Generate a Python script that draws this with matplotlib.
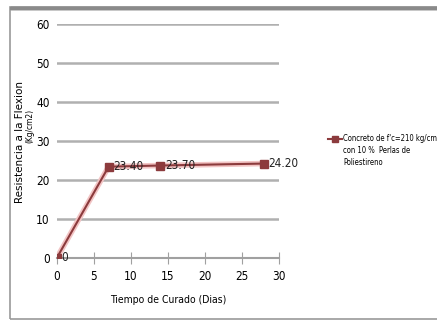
import matplotlib
matplotlib.use("Agg")
import matplotlib.pyplot as plt
from matplotlib.patches import Rectangle
from matplotlib.lines import Line2D

# Data
dias = [0, 7, 14, 28]
resistencia = [0, 23.40, 23.70, 24.20]
etiquetas = ["0", "23.40", "23.70", "24.20"]
serie = "Concreto de f'c=210 kg/cm\ncon 10 %  Perlas de\nPoliestireno"

plt.rcParams['font.family'] = ['DejaVu Sans']
plt.rcParams['font.stretch'] = 'condensed'

W, H = 437, 324
fig = plt.figure(figsize=(W / 100, H / 100), dpi=100)
ax = fig.add_axes([0.130, 0.204, 0.508, 0.722])

# Outer frame of the chart
fig.patches.append(Rectangle((10 / W, 5 / H), 1.1, 312 / H, transform=fig.transFigure,
                             fill=False, edgecolor='#9a9a9a', linewidth=1.2))
fig.patches.append(Rectangle((10 / W, 316 / H), 1.1, 0.0, transform=fig.transFigure,
                             fill=False, edgecolor='#8a8a8a', linewidth=2.5))

red = '#8c3b3d'
ax.plot(dias, resistencia, color='#f2c4c4', linewidth=4, zorder=2, solid_capstyle='round')
ax.plot(dias, resistencia, color=red, marker='s', markersize=6, linewidth=1.5, zorder=3)
for x, y, t in zip(dias, resistencia, etiquetas):
    ax.text(x + 0.6, y, t, fontsize=8.5, va='center', ha='left', color='#222222')

ax.set_xlim(0, 30)
ax.set_ylim(0, 60)
ax.set_xticks(range(0, 31, 5))
ax.set_yticks(range(0, 61, 10))
ax.grid(axis='y', color='#b0b0b0', linewidth=1.8)
ax.set_axisbelow(True)
for s in ['top', 'right', 'left']:
    ax.spines[s].set_visible(False)
ax.spines['bottom'].set_color('#a0a0a0')
ax.spines['bottom'].set_linewidth(1.5)
ax.tick_params(axis='x', direction='inout', length=8, color='#a0a0a0', labelsize=8.5, pad=5)
ax.tick_params(axis='y', length=0, labelsize=8.5, pad=5)

ax.set_xlabel("Tiempo de Curado (Dias)", fontsize=7.5, labelpad=8)

# y label: two lines, first one spread wide as in the original
fig.text(20 / W, 1 - 142 / H, "Resistencia a la Flexion", rotation=90, fontsize=7.5,
         fontstretch='normal', ha='center', va='center')
fig.text(30 / W, 1 - 126 / H, "(Kg/cm2)", rotation=90, fontsize=6,
         ha='center', va='center')

# legend drawn by hand so the marker sits on the first line
fig.lines.append(Line2D([328 / W, 342 / W], [1 - 139 / H, 1 - 139 / H], transform=fig.transFigure,
                        color=red, linewidth=1.5))
fig.lines.append(Line2D([335 / W], [1 - 139 / H], transform=fig.transFigure,
                        color=red, marker='s', markersize=5, linestyle='none'))
fig.text(343 / W, 1 - 134 / H, serie, fontsize=5.5, ha='left', va='top', linespacing=1.45)

fig.savefig("out.png", dpi=100)
